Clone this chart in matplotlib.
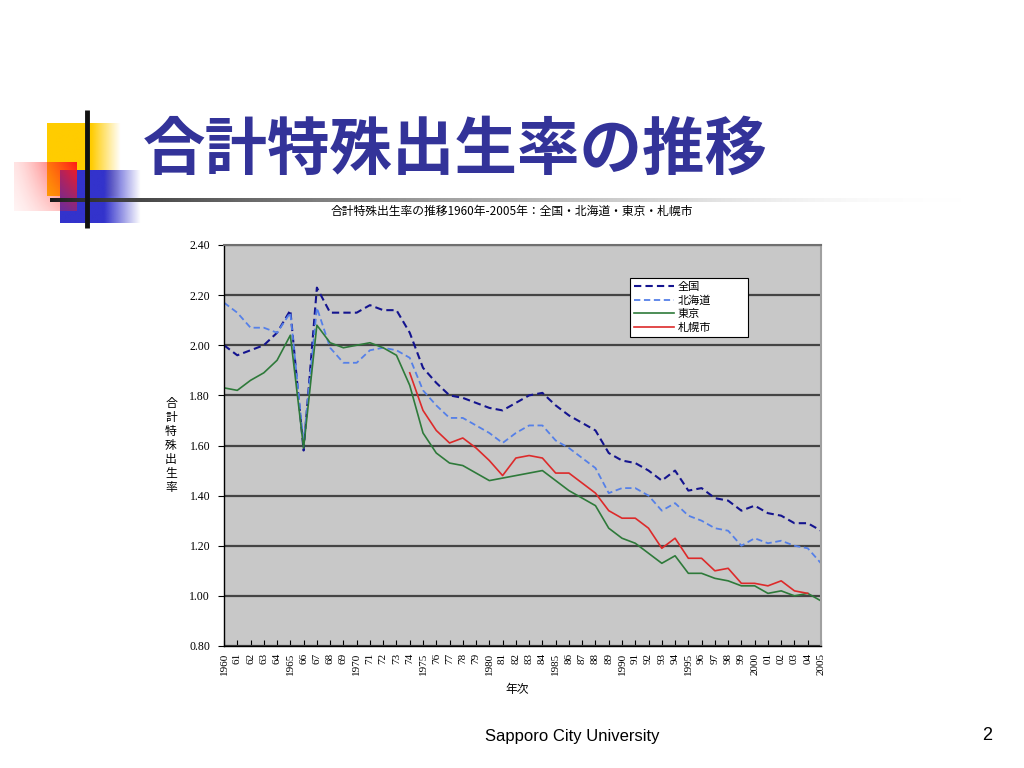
import numpy as np
import matplotlib
matplotlib.use("Agg")
import matplotlib.pyplot as plt
from matplotlib.ticker import FuncFormatter, MultipleLocator

plt.rcParams['font.family'] = ['Noto Sans CJK JP', 'DejaVu Sans']

# ---------------- data ----------------
years = list(range(1960, 2006))
national = [2.00, 1.96, 1.98, 2.00, 2.05, 2.14, 1.58, 2.23, 2.13, 2.13,
            2.13, 2.16, 2.14, 2.14, 2.05, 1.91, 1.85, 1.80, 1.79, 1.77,
            1.75, 1.74, 1.77, 1.80, 1.81, 1.76, 1.72, 1.69, 1.66, 1.57,
            1.54, 1.53, 1.50, 1.46, 1.50, 1.42, 1.43, 1.39, 1.38, 1.34,
            1.36, 1.33, 1.32, 1.29, 1.29, 1.26]
hokkaido = [2.17, 2.13, 2.07, 2.07, 2.05, 2.13, 1.61, 2.15, 1.99, 1.93,
            1.93, 1.98, 1.99, 1.98, 1.95, 1.82, 1.76, 1.71, 1.71, 1.68,
            1.65, 1.61, 1.65, 1.68, 1.68, 1.62, 1.59, 1.55, 1.51, 1.41,
            1.43, 1.43, 1.40, 1.34, 1.37, 1.32, 1.30, 1.27, 1.26, 1.20,
            1.23, 1.21, 1.22, 1.20, 1.19, 1.13]
tokyo = [1.83, 1.82, 1.86, 1.89, 1.94, 2.04, 1.59, 2.08, 2.01, 1.99,
         2.00, 2.01, 1.99, 1.96, 1.84, 1.65, 1.57, 1.53, 1.52, 1.49,
         1.46, 1.47, 1.48, 1.49, 1.50, 1.46, 1.42, 1.39, 1.36, 1.27,
         1.23, 1.21, 1.17, 1.13, 1.16, 1.09, 1.09, 1.07, 1.06, 1.04,
         1.04, 1.01, 1.02, 1.00, 1.01, 0.98]
nan = float('nan')
sapporo = [nan] * 14 + [1.89, 1.74, 1.66, 1.61, 1.63, 1.59,
                        1.54, 1.48, 1.55, 1.56, 1.55, 1.49, 1.49, 1.45, 1.41, 1.34,
                        1.31, 1.31, 1.27, 1.19, 1.23, 1.15, 1.15, 1.10, 1.11, 1.05,
                        1.05, 1.04, 1.06, 1.02, 1.01, nan]
series_names = ['全国', '北海道', '東京', '札幌市']
tick_labels = [str(y) if y % 5 == 0 else f"{y % 100:02d}" for y in years]

slide_title = '合計特殊出生率の推移'
chart_title = '合計特殊出生率の推移1960年-2005年：全国・北海道・東京・札幌市'
ylabel = '合計特殊出生率'
xlabel = '年次'
footer = 'Sapporo City University'
page = '2'

# ---------------- figure ----------------
W, H = 1024, 768
fig = plt.figure(figsize=(W / 100, H / 100), dpi=100)
fig.patch.set_facecolor('white')

# decoration overlay (pixel coordinates)
deco = fig.add_axes([0, 0, 1, 1], zorder=0)
deco.set_xlim(0, W)
deco.set_ylim(H, 0)
deco.axis('off')


def grad_rect(x0, x1, y0, y1, rgb, alpha_fn, z):
    nx, ny = 120, 60
    xs = np.linspace(0, 1, nx)
    ys = np.linspace(0, 1, ny)
    X, Y = np.meshgrid(xs, ys)
    arr = np.zeros((ny, nx, 4))
    arr[..., 0] = rgb[0]
    arr[..., 1] = rgb[1]
    arr[..., 2] = rgb[2]
    arr[..., 3] = np.clip(alpha_fn(X, Y), 0, 1)
    deco.imshow(arr, extent=(x0, x1, y1, y0), origin='upper', aspect='auto',
                interpolation='bilinear', zorder=z)


# yellow square
grad_rect(47, 121, 123, 196, (1.0, 0.8, 0.0),
          lambda X, Y: np.where(X < 0.6, 1.0, 1.0 - (X - 0.6) / 0.4), 1)
# blue square
grad_rect(60, 141, 170, 223, (0.2, 0.2, 0.8),
          lambda X, Y: np.where(X < 0.55, 1.0, 1.0 - (X - 0.55) / 0.45), 2)
# red square
grad_rect(14, 77, 162, 211, (1.0, 0.1, 0.1),
          lambda X, Y: (0.12 + 0.88 * X ** 1.4) * (1.0 - 0.6 * Y), 3)
# vertical black line
deco.plot([87, 87], [110, 228], color='#111111', lw=3.5, zorder=5,
          solid_capstyle='butt')
# horizontal fading line
nx = 200
xs = np.linspace(0, 1, nx)
harr = np.zeros((1, nx, 4))
g = 0.1 + 0.9 * np.clip(xs, 0, 1) ** 0.7
harr[0, :, 0] = g
harr[0, :, 1] = g
harr[0, :, 2] = g
harr[0, :, 3] = 1.0 - xs ** 3
deco.imshow(harr, extent=(50, 965, 202, 198), origin='upper', aspect='auto',
            interpolation='bilinear', zorder=4)

# slide title
deco.text(143, 150, slide_title, fontsize=45, color='#333399',
          fontweight='bold', ha='left', va='center', zorder=6)

# footer
deco.text(572, 736, footer, fontsize=12, family='Liberation Sans',
          color='black', ha='center', va='center')
deco.text(987, 735, page, fontsize=13, family='Liberation Sans',
          color='black', ha='center', va='center')

# chart title
deco.text(512, 211, chart_title, fontsize=8.5, color='black',
          ha='center', va='center')

# ---------------- chart ----------------
left, right, top, bottom = 224, 821, 245, 646
ax = fig.add_axes([left / W, 1 - bottom / H, (right - left) / W, (bottom - top) / H],
                  zorder=2)
ax.set_facecolor('#C8C8C8')

ax.plot(years, national, color='#14148F', lw=1.5, ls=(0, (3.5, 2)), label=series_names[0])
ax.plot(years, hokkaido, color='#5580E8', lw=1.3, ls=(0, (3.5, 2)), label=series_names[1])
ax.plot(years, tokyo, color='#2E7A3A', lw=1.2, label=series_names[2])
ax.plot(years, sapporo, color='#DD2A2A', lw=1.2, label=series_names[3])

ax.set_xlim(1960, 2005)
ax.set_ylim(0.80, 2.40)
ax.yaxis.set_major_locator(MultipleLocator(0.20))
ax.yaxis.set_major_formatter(FuncFormatter(lambda v, p: f"{v:.2f}"))
ax.grid(axis='y', color='#444444', lw=1.6)
ax.set_axisbelow(True)

ax.set_xticks(years)
ax.set_xticklabels(tick_labels, rotation=90, fontsize=8, family='Liberation Serif')
ax.tick_params(axis='x', direction='in', length=4, width=0.8, pad=5, color='black')
ax.tick_params(axis='y', direction='out', length=4, width=0.8, pad=6,
               labelsize=8.5)
for lab in ax.get_yticklabels():
    lab.set_family('Liberation Serif')

for s in ['left', 'bottom']:
    ax.spines[s].set_color('black')
    ax.spines[s].set_linewidth(1.0)
ax.spines['top'].set_color('#707070')
ax.spines['top'].set_linewidth(1.5)
ax.spines['right'].set_color('#A0A0A0')
ax.spines['right'].set_linewidth(1.5)

# y label stacked vertically
deco.text(171, 445, '\n'.join(ylabel), fontsize=8.5, ha='center', va='center',
          linespacing=1.1, zorder=6)
# x label
deco.text(517, 689, xlabel, fontsize=8.5, ha='center', va='center', zorder=6)

leg = ax.legend(loc='upper left', bbox_to_anchor=(0.680, 0.768, 0.198, 0.150),
                mode='expand', fontsize=8,
                frameon=True, fancybox=False, edgecolor='black', framealpha=1,
                handlelength=3.6, labelspacing=0.32, borderpad=0.35,
                handletextpad=0.35, borderaxespad=0)
leg.get_frame().set_linewidth(0.8)

fig.savefig('out.png', dpi=100, facecolor='white')
